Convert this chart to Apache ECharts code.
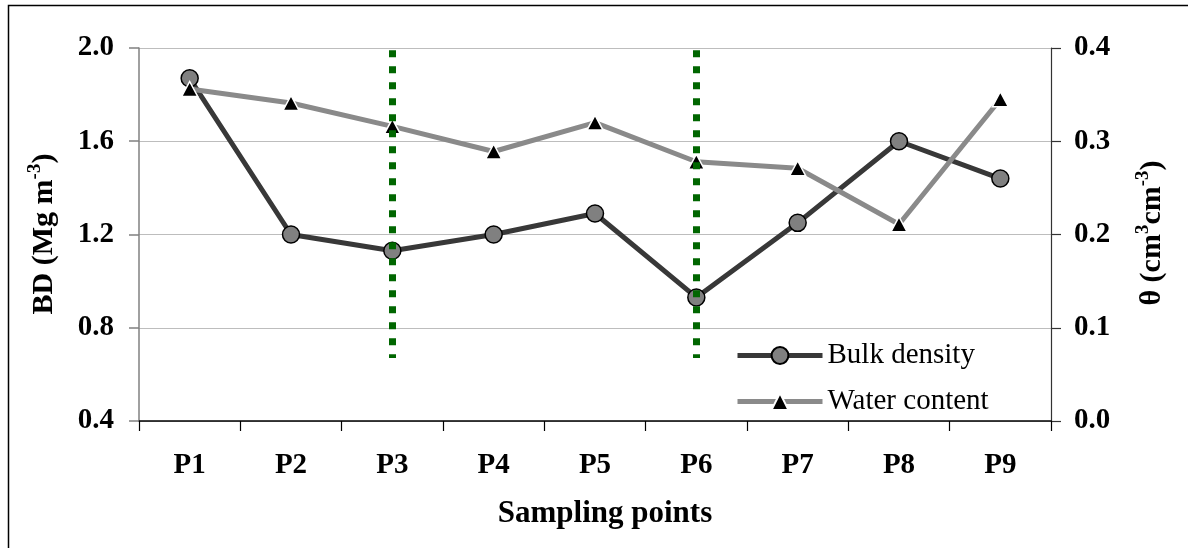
<!DOCTYPE html>
<html>
<head>
<meta charset="utf-8">
<script src="https://cdn.jsdelivr.net/npm/echarts@6/dist/echarts.min.js"></script>
<style>
  html, body { margin: 0; padding: 0; background: #fff; }
  #chart { width: 1188px; height: 548px; }
</style>
</head>
<body>
<div id="chart"></div>
<script>
// ---- data ----
const categories = ['P1', 'P2', 'P3', 'P4', 'P5', 'P6', 'P7', 'P8', 'P9'];
const bulkDensity = [1.87, 1.20, 1.13, 1.20, 1.29, 0.93, 1.25, 1.60, 1.44];
const waterContent = [0.356, 0.341, 0.316, 0.289, 0.320, 0.278, 0.271, 0.211, 0.345];
const leftTicks = { min: 0.4, max: 2.0, interval: 0.4 };
const rightTicks = { min: 0.0, max: 0.4, interval: 0.1 };
const dividerCategories = ['P3', 'P6'];
const dividerRange = [0.67, 1.99];

const FONT = "'Liberation Serif', 'Times New Roman', serif";

const chart = echarts.init(document.getElementById('chart'), null, { renderer: 'canvas' });

const option = {
  backgroundColor: '#ffffff',
  animation: false,
  textStyle: { fontFamily: FONT },
  grid: { left: 139, right: 137, top: 48, bottom: 127, containLabel: false },
  legend: {
    orient: 'vertical',
    left: 735,
    top: 341,
    padding: 0,
    itemWidth: 85,
    itemHeight: 21,
    itemGap: 17,
    lineStyle: { width: 5 },
    textStyle: { fontFamily: FONT, fontSize: 29, color: '#000' },
    data: ['Bulk density', 'Water content']
  },
  xAxis: {
    type: 'category',
    data: categories,
    boundaryGap: true,
    axisLine: { lineStyle: { color: '#000', width: 1.5 } },
    axisTick: { show: true, length: 10, inside: false, lineStyle: { color: '#000', width: 1.2 } },
    axisLabel: { margin: 30, fontFamily: FONT, fontSize: 29, fontWeight: 'bold', color: '#000' },
    splitLine: { show: false }
  },
  yAxis: [
    {
      type: 'value',
      position: 'left',
      min: leftTicks.min,
      max: leftTicks.max,
      interval: leftTicks.interval,
      axisLine: { show: true, lineStyle: { color: '#808080', width: 1.5 } },
      axisTick: { show: true, length: 10, lineStyle: { color: '#808080', width: 1.5 } },
      axisLabel: { margin: 25, fontFamily: FONT, fontSize: 29, fontWeight: 'bold', color: '#000',
        formatter: v => v.toFixed(1) },
      splitLine: { show: true, lineStyle: { color: '#bdbdbd', width: 1.2 } }
    },
    {
      type: 'value',
      position: 'right',
      min: rightTicks.min,
      max: rightTicks.max,
      interval: rightTicks.interval,
      axisLine: { show: true, lineStyle: { color: '#333', width: 1.2 } },
      axisTick: { show: true, length: 10, lineStyle: { color: '#333', width: 1.2 } },
      axisLabel: { margin: 23, fontFamily: FONT, fontSize: 29, fontWeight: 'bold', color: '#000',
        formatter: v => v.toFixed(1) },
      splitLine: { show: false }
    }
  ],
  graphic: [
    {
      type: 'rect',
      shape: { x: 8.5, y: 5.5, width: 1300, height: 700 },
      style: { fill: 'none', stroke: '#000', lineWidth: 1.5 },
      silent: true, z: -10
    },
    {
      type: 'text',
      x: 605, y: 514,
      style: {
        text: 'Sampling points',
        align: 'center', verticalAlign: 'middle',
        fontFamily: FONT, fontSize: 31, fontWeight: 'bold', fill: '#000'
      }
    },
    {
      type: 'text',
      x: 44, y: 234,
      rotation: Math.PI / 2,
      style: {
        text: '{t|BD (Mg m}{s|-3}{t|)}',
        align: 'center', verticalAlign: 'middle',
        rich: {
          t: { fontFamily: FONT, fontSize: 30, fontWeight: 'bold', fill: '#000' },
          s: { fontFamily: FONT, fontSize: 19, fontWeight: 'bold', fill: '#000', padding: [0, 0, 17, 0] }
        }
      }
    },
    {
      type: 'text',
      x: 1152, y: 233,
      rotation: Math.PI / 2,
      style: {
        text: '{t|θ (cm}{s|3}{t|cm}{s|-3}{t|)}',
        align: 'center', verticalAlign: 'middle',
        rich: {
          t: { fontFamily: FONT, fontSize: 30, fontWeight: 'bold', fill: '#000' },
          s: { fontFamily: FONT, fontSize: 19, fontWeight: 'bold', fill: '#000', padding: [0, 0, 17, 0] }
        }
      }
    }
  ],
  series: [
    {
      name: 'Bulk density',
      type: 'line',
      yAxisIndex: 0,
      data: bulkDensity,
      symbol: 'circle',
      symbolSize: 17,
      lineStyle: { color: '#383838', width: 5 },
      itemStyle: { color: '#808080', borderColor: '#000', borderWidth: 1.5 },
      z: 2
    },
    {
      name: 'Water content',
      type: 'line',
      yAxisIndex: 1,
      data: waterContent,
      symbol: 'triangle',
      symbolSize: [16, 15],
      lineStyle: { color: '#8a8a8a', width: 5 },
      itemStyle: { color: '#000', borderColor: '#fff', borderWidth: 1.5 },
      z: 3
    },
    {
      name: 'dividers',
      type: 'line',
      yAxisIndex: 0,
      data: [],
      silent: true,
      z: 10,
      markLine: {
        silent: true,
        symbol: ['none', 'none'],
        label: { show: false },
        lineStyle: { color: '#006600', width: 7, type: [7, 9], cap: 'butt' },
        data: dividerCategories.map(c => [
          { coord: [c, dividerRange[1]] },
          { coord: [c, dividerRange[0]] }
        ])
      }
    }
  ]
};

chart.setOption(option);
</script>
</body>
</html>
